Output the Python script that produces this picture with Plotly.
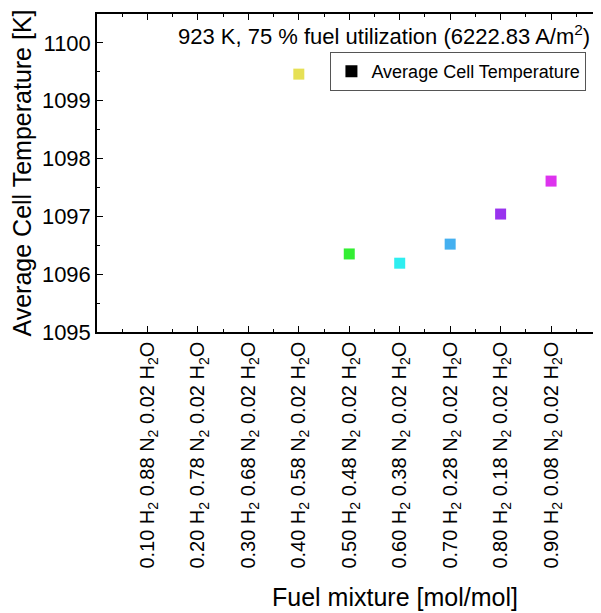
import plotly.graph_objects as go

h2_frac = [0.10, 0.20, 0.30, 0.40, 0.50, 0.60, 0.70, 0.80, 0.90]
n2_frac = [0.88, 0.78, 0.68, 0.58, 0.48, 0.38, 0.28, 0.18, 0.08]
h2o_frac = [0.02] * 9
tick_labels = [f"{h:.2f} H<sub>2</sub> {n:.2f} N<sub>2</sub> {w:.2f} H<sub>2</sub>O"
               for h, n, w in zip(h2_frac, n2_frac, h2o_frac)]

pt_x = [0.40, 0.50, 0.60, 0.70, 0.80, 0.90]
pt_temp = [1099.46, 1096.35, 1096.19, 1096.52, 1097.04, 1097.61]
pt_colors = ["#e6e055", "#33ee33", "#2eeef0", "#44b0f0", "#9933ee", "#dd33ee"]

FONT = "Liberation Sans, Arial, sans-serif"

fig = go.Figure()
fig.add_trace(go.Scatter(
    x=pt_x, y=pt_temp, mode="markers",
    marker=dict(symbol="square", size=11, color=pt_colors, line=dict(width=0)),
    showlegend=False,
))
fig.add_trace(go.Scatter(
    x=[None], y=[None], mode="markers", name="Average Cell Temperature",
    marker=dict(symbol="square", size=11, color="black"),
))

axis_common = dict(
    showline=True, linecolor="black", linewidth=1.5, mirror="allticks",
    ticks="inside", ticklen=6, tickwidth=1.2, tickcolor="black",
    showgrid=False, zeroline=False, automargin=False,
)

# page body has an 8px default margin, so the figure is sized to fit the window
fig.update_layout(
    width=593, height=605,
    margin=dict(l=89, r=2, t=6, b=281),
    paper_bgcolor="white", plot_bgcolor="white",
    font=dict(family=FONT, color="black"),
    xaxis=dict(
        range=[0.0, 0.995],
        tickmode="array", tickvals=h2_frac, ticktext=tick_labels,
        tickangle=-90,
        tickfont=dict(family=FONT, size=20, color="black"),
        minor=dict(ticks="inside", ticklen=3.5, tickcolor="black", dtick=0.05, tick0=0.0),
        **axis_common,
    ),
    yaxis=dict(
        range=[1095, 1100.5],
        tickmode="linear", tick0=1095, dtick=1,
        tickfont=dict(family=FONT, size=22, color="black"),
        minor=dict(ticks="inside", ticklen=3.5, tickcolor="black", dtick=0.5),
        title=dict(text="Average Cell Temperature [K]", font=dict(family=FONT, size=25), standoff=3),
        **axis_common,
    ),
    legend=dict(
        x=0.465, y=0.88, xanchor="left", yanchor="top",
        bgcolor="white", bordercolor="#555555", borderwidth=1,
        font=dict(family=FONT, size=18, color="black"),
        itemsizing="constant",
    ),
    annotations=[
        dict(
            text="923 K, 75 % fuel utilization (6222.83 A/m<sup>2</sup>)",
            xref="paper", yref="paper", x=0.986, y=0.935, xanchor="right", yanchor="middle",
            showarrow=False, font=dict(family=FONT, size=22, color="black"),
        ),
        dict(
            text="Fuel mixture [mol/mol]",
            xref="paper", yref="paper", x=0.594, y=-0.833, xanchor="center", yanchor="middle",
            showarrow=False, font=dict(family=FONT, size=25, color="black"),
        ),
    ],
)

fig.write_html("out.html")
